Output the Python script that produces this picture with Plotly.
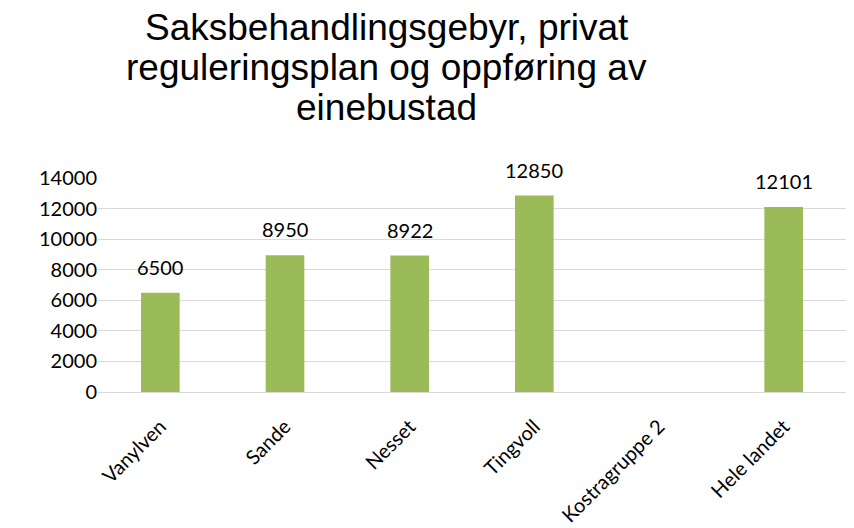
import plotly.graph_objects as go

categories = ["Vanylven", "Sande", "Nesset", "Tingvoll", "Kostragruppe 2", "Hele landet"]
values = [6500, 8950, 8922, 12850, None, 12101]
y_ticks = [0, 2000, 4000, 6000, 8000, 10000, 12000, 14000]
title_lines = ["Saksbehandlingsgebyr, privat", "reguleringsplan og oppføring av", "einebustad"]

LABEL_FONT = "Lato, Open Sans, sans-serif"

fig = go.Figure()
fig.add_trace(go.Bar(
    x=categories, y=values,
    marker=dict(color="#9BBB59", line=dict(width=0)),
    width=0.31,
    hoverinfo="x+y",
))

# data labels, placed from the data through the axes
for c, v in zip(categories, values):
    if v is None:
        continue
    fig.add_annotation(
        x=c, y=v, xref="x", yref="y", text=str(v), showarrow=False,
        yanchor="middle", yshift=26,
        font=dict(family=LABEL_FONT, size=20, color="#000000"),
    )

# the page body adds an 8px offset; figure is sized to compensate
OFF = 8
plot_top, plot_h = 178 - OFF, 214
for i, line in enumerate(title_lines):
    cy = 27 + 40 * i - OFF
    fig.add_annotation(
        x=0.386, xref="paper", xanchor="center",
        y=(plot_top + plot_h - cy) / plot_h, yref="paper", yanchor="middle",
        text=line, showarrow=False,
        font=dict(family="Liberation Sans, Arial, sans-serif", size=37, color="#000000"),
    )

fig.update_layout(
    width=854 - OFF, height=528 - OFF,
    paper_bgcolor="white", plot_bgcolor="white",
    margin=dict(l=98 - OFF, r=8, t=178 - OFF, b=136, autoexpand=False),
    showlegend=False,
    yaxis=dict(
        range=[0, 14000], tickvals=y_ticks, ticktext=[str(t) for t in y_ticks],
        showgrid=True, gridcolor="#D9D9D9", gridwidth=1,
        zeroline=True, zerolinecolor="#D9D9D9", zerolinewidth=1,
        showline=False, ticks="", ticklen=0, automargin=False,
        tickfont=dict(family=LABEL_FONT, size=20, color="#000000"),
    ),
    xaxis=dict(
        tickangle=-45, showline=False, showgrid=False, automargin=False,
        ticks="outside", ticklen=14, tickcolor="rgba(0,0,0,0)",
        tickfont=dict(family=LABEL_FONT, size=20, color="#000000"),
    ),
)

fig.write_html("out.html")
